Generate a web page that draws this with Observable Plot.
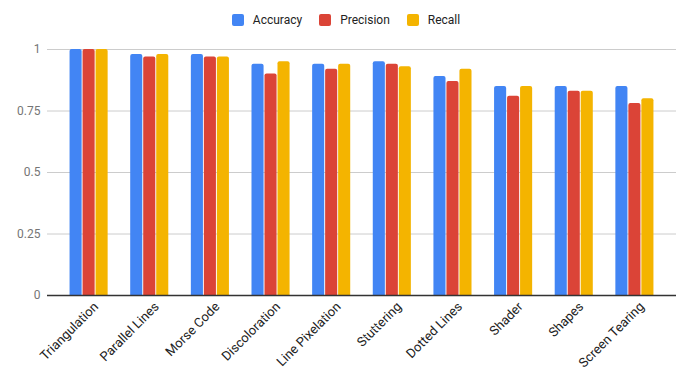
<!DOCTYPE html>
<html>
<head>
<meta charset="utf-8">
<script src="https://cdn.jsdelivr.net/npm/d3@7"></script>
<script src="https://cdn.jsdelivr.net/npm/@observablehq/plot@0.6"></script>
<style>
  html, body { margin: 0; padding: 0; background: #fff; }
  body { width: 692px; height: 381px; overflow: hidden; font-family: Roboto, "Noto Sans", sans-serif; }
  #legend { height: 40px; display: flex; justify-content: center; align-items: center; font-size: 12px; color: #222; box-sizing: border-box; }
  .item { display: flex; align-items: center; margin: 0 8.5px; }
  .sw { width: 12px; height: 12px; border-radius: 2px; margin-right: 9px; }
</style>
</head>
<body>
<div id="legend"></div>
<div id="chart"></div>
<script>
const categories = ["Triangulation", "Parallel Lines", "Morse Code", "Discoloration", "Line Pixelation", "Stuttering", "Dotted Lines", "Shader", "Shapes", "Screen Tearing"];
const accuracy  = [1.00, 0.98, 0.98, 0.94, 0.94, 0.95, 0.89, 0.85, 0.85, 0.85];
const precision = [1.00, 0.97, 0.97, 0.90, 0.92, 0.94, 0.87, 0.81, 0.83, 0.78];
const recall    = [1.00, 0.98, 0.97, 0.95, 0.94, 0.93, 0.92, 0.85, 0.83, 0.80];
const seriesNames = ["Accuracy", "Precision", "Recall"];
const seriesColors = ["#4285F4", "#DB4437", "#F4B400"];
const yTicks = [0, 0.25, 0.5, 0.75, 1];

const seriesValues = [accuracy, precision, recall];
const rows = seriesNames.map((s, i) => categories.map((c, j) => ({category: c, series: s, value: seriesValues[i][j]})));

// legend
const legend = document.getElementById("legend");
seriesNames.forEach((s, i) => {
  const it = document.createElement("div");
  it.className = "item";
  it.innerHTML = `<span class="sw" style="background:${seriesColors[i]}"></span><span>${s}</span>`;
  legend.appendChild(it);
});

const barW = 12, gap = 1;
const bandW = 3 * barW + 2 * gap; // 38
const barMarks = rows.map((data, i) => Plot.barY(data, {
  x: "category",
  y: "value",
  fill: seriesColors[i],
  insetLeft: i * (barW + gap),
  insetRight: bandW - (i * (barW + gap) + barW),
  insetBottom: -4,
  rx: 2,
  clip: true
}));

const chart = Plot.plot({
  width: 692,
  height: 341,
  marginTop: 9,
  marginBottom: 86,
  marginLeft: 47,
  marginRight: 16,
  style: { fontFamily: "Roboto, 'Noto Sans', sans-serif", fontSize: "12px", color: "#222", background: "#fff" },
  x: { domain: categories, padding: 0.372, round: false, label: null },
  y: { domain: [0, 1], label: null },
  marks: [
    Plot.ruleY(yTicks.filter(d => d > 0), { stroke: "#cccccc", strokeWidth: 1 }),
    ...barMarks,
    Plot.ruleY([0], { stroke: "#333333", strokeWidth: 1.3 }),
    Plot.axisY(yTicks, { tickSize: 0, tickPadding: 7, tickFormat: d => String(d), color: "#757575", fontSize: 12, label: null }),
    Plot.axisX({ tickSize: 0, tickRotate: -45, tickPadding: 9, dx: 7, color: "#222", fontSize: 13, label: null })
  ]
});
document.getElementById("chart").appendChild(chart);
</script>
</body>
</html>
